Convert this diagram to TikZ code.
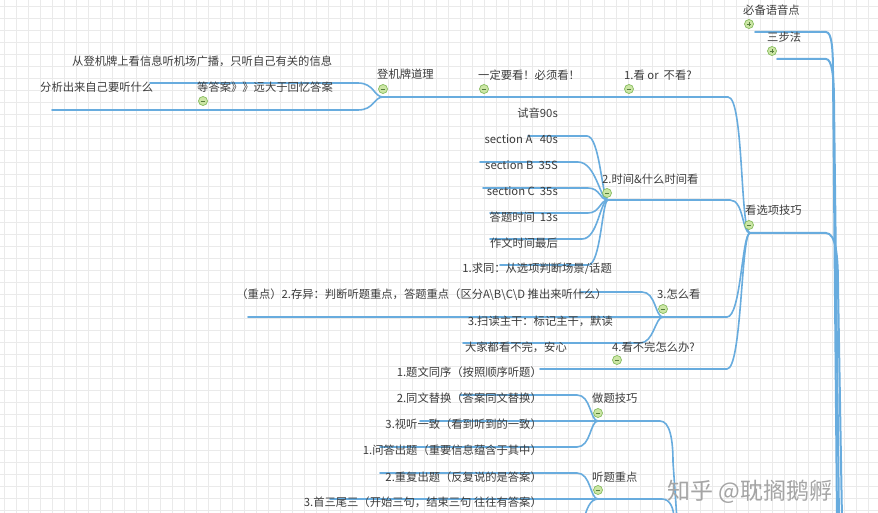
\documentclass[tikz,border=0pt]{standalone}
\usepackage{fontspec}
\setmainfont{Noto Sans CJK SC}
\definecolor{lb}{RGB}{104,172,222}
\definecolor{tc}{RGB}{60,60,60}
\definecolor{gridc}{RGB}{234,234,234}
\definecolor{cf}{RGB}{204,230,165}
\definecolor{cb}{RGB}{135,188,95}
\definecolor{cs}{RGB}{85,125,60}
\definecolor{wm}{RGB}{165,165,165}
\tikzset{
  br/.style={draw=lb, line width=1.6pt, line cap=round},
  mainbr/.style={draw=lb, line width=2pt, line cap=round},
  txt/.style={inner sep=0pt, text=tc, font=\fontsize{11.3}{13}\selectfont},
  wmtxt/.style={inner sep=0pt, anchor=west, font=\fontsize{23}{26}\selectfont},
  colminus/.style={circle, draw=cb, fill=cf, minimum size=9pt, inner sep=0pt, line width=0.7pt,
    path picture={\draw[cs, line width=0.9pt] ([xshift=-2.4pt]path picture bounding box.center) -- ([xshift=2.4pt]path picture bounding box.center);}},
  colplus/.style={circle, draw=cb, fill=cf, minimum size=9pt, inner sep=0pt, line width=0.7pt,
    path picture={\draw[cs, line width=0.9pt] ([xshift=-2.4pt]path picture bounding box.center) -- ([xshift=2.4pt]path picture bounding box.center)
      ([yshift=-2.4pt]path picture bounding box.center) -- ([yshift=2.4pt]path picture bounding box.center);}}
}
\begin{document}
\begin{tikzpicture}[x=1pt,y=-1pt]
\useasboundingbox (0,0) rectangle (878,513);
\fill[white] (0,0) rectangle (878,513);
\foreach \i in {4,16,...,878} \draw[gridc, line width=0.5pt] (\i,0) -- (\i,513);
\foreach \j in {6,18,...,513} \draw[gridc, line width=0.5pt] (0,\j) -- (878,\j);

% ---------- coordinates ----------
\coordinate (JA) at (383,97);
\coordinate (a1s) at (150,83); \coordinate (a1e) at (358,83);
\coordinate (a2s) at (52,110); \coordinate (a2e) at (358,110);
\coordinate (Aend) at (728,97);
\coordinate (JK) at (750,233);
\coordinate (JB) at (608,200);
\coordinate (b1s) at (528,136); \coordinate (b1e) at (587,136);
\coordinate (b2s) at (480,162); \coordinate (b2e) at (578,162);
\coordinate (b3s) at (483,188); \coordinate (b3e) at (588,188);
\coordinate (b4s) at (490,213); \coordinate (b4e) at (588,213);
\coordinate (b5s) at (490,239); \coordinate (b5e) at (582,239);
\coordinate (b6s) at (500,265); \coordinate (b6e) at (588,265);
\coordinate (Bend) at (730,200);
\coordinate (JC) at (663,317);
\coordinate (c1s) at (580,292); \coordinate (c1e) at (642,292);
\coordinate (c2s) at (248,317);
\coordinate (c3s) at (463,343); \coordinate (c3e) at (640,343);
\coordinate (Cend) at (727,317);
\coordinate (ds) at (540,369); \coordinate (de) at (727,369);
\coordinate (JD) at (598,421);
\coordinate (e1s) at (460,395); \coordinate (e1e) at (577,395);
\coordinate (e2s) at (420,421);
\coordinate (e3s) at (380,447); \coordinate (e3e) at (577,447);
\coordinate (Dend) at (660,421); \coordinate (Ddown) at (673,462); \coordinate (Dbot) at (677,520);
\coordinate (JE) at (598,499);
\coordinate (f1s) at (380,473); \coordinate (f1e) at (577,473);
\coordinate (f2s) at (330,499);
\coordinate (f3b) at (584,520);
\coordinate (Eend) at (662,499); \coordinate (Ebot) at (674,520);
\coordinate (Kend) at (826,233); \coordinate (Kdown) at (838,285); \coordinate (Kbot) at (842,520);
\coordinate (Ps) at (755,32); \coordinate (Pe) at (826,32); \coordinate (Pdown) at (833,75); \coordinate (Pbot) at (837,520);
\coordinate (Ss) at (777,59); \coordinate (Se) at (826,59); \coordinate (Sdown) at (834,102); \coordinate (Sbot) at (839,520);

% ---------- connectors ----------
\draw[br] (a1s) -- (a1e) .. controls +(16,0) and +(-9,0) .. (JA);
\draw[br] (a2s) -- (a2e) .. controls +(16,0) and +(-9,0) .. (JA);
\draw[br] (JA) -- (Aend) .. controls +(16,0) and +(-10,0) .. (JK);

\draw[br] (b1s) -- (b1e) .. controls +(13,0) and +(-6,0) .. (JB);
\draw[br] (b2s) -- (b2e) .. controls +(18,0) and +(-8,0) .. (JB);
\draw[br] (b3s) -- (b3e) .. controls +(12,0) and +(-8,0) .. (JB);
\draw[br] (b4s) -- (b4e) .. controls +(12,0) and +(-8,0) .. (JB);
\draw[br] (b5s) -- (b5e) .. controls +(16,0) and +(-8,0) .. (JB);
\draw[br] (b6s) -- (b6e) .. controls +(13,0) and +(-6,0) .. (JB);
\draw[br] (JB) -- (Bend) .. controls +(14,0) and +(-8,0) .. (JK);

\draw[br] (c1s) -- (c1e) .. controls +(14,0) and +(-8,0) .. (JC);
\draw[br] (c2s) -- (JC);
\draw[br] (c3s) -- (c3e) .. controls +(14,0) and +(-8,0) .. (JC);
\draw[br] (JC) -- (Cend) .. controls +(14,0) and +(-8,0) .. (JK);
\draw[br] (ds) -- (de) .. controls +(15,0) and +(-9,0) .. (JK);

\draw[br] (e1s) -- (e1e) .. controls +(14,0) and +(-8,0) .. (JD);
\draw[br] (e2s) -- (JD);
\draw[br] (e3s) -- (e3e) .. controls +(14,0) and +(-8,0) .. (JD);
\draw[br] (JD) -- (Dend) .. controls +(10,0) and +(0,-22) .. (Ddown) -- (Dbot);

\draw[br] (f1s) -- (f1e) .. controls +(14,0) and +(-8,0) .. (JE);
\draw[br] (f2s) -- (JE);
\draw[br] (JE) .. controls +(-8,0) and +(2,-10) .. (f3b);
\draw[br] (JE) -- (Eend) .. controls +(8,0) and +(0,-12) .. (Ebot);

\draw[mainbr] (JK) -- (Kend) .. controls +(10,0) and +(0,-28) .. (Kdown) -- (Kbot);
\draw[mainbr] (Ps) -- (Pe) .. controls +(6,0) and +(0,-25) .. (Pdown) -- (Pbot);
\draw[mainbr] (Ss) -- (Se) .. controls +(6,0) and +(0,-25) .. (Sdown) -- (Sbot);

% ---------- texts ----------
\node[txt, anchor=west] (t1) at (72,61) {从登机牌上看信息听机场广播，只听自己有关的信息};
\node[txt, anchor=west] (t2) at (40,87) {分析出来自己要听什么};
\node[txt, anchor=west] (t3) at (197,87) {等答案》》远大于回忆答案};
\node[txt, anchor=west] (t4) at (377,74) {登机牌道理};
\node[txt, anchor=west] (t5) at (478,75) {一定要看！必须看！};
\node[txt, anchor=west] (t6) at (624,75) {1.看 or\ \ 不看?};
\node[txt, anchor=east] (t7) at (558,113) {试音90s};
\node[txt, anchor=east] (t8) at (558,139) {section A\ \ \ 40s};
\node[txt, anchor=east] (t9) at (558,165) {section B\ \ 35S};
\node[txt, anchor=east] (t10) at (558,191) {section C\ \ 35s};
\node[txt, anchor=east] (t11) at (558,217) {答题时间\ \ 13s};
\node[txt, anchor=east] (t12) at (558,243) {作文时间最后};
\node[txt, anchor=west] (t13) at (602,179) {2.时间\&什么时间看};
\node[txt, anchor=west] (t14) at (745,210) {看选项技巧};
\node[txt, anchor=east] (t15) at (612,269) {1.求同：从选项判断场景/话题};
\node[txt, anchor=east] (t16) at (607,295) {（重点）2.存异：判断听题重点，答题重点（区分A\textbackslash B\textbackslash C\textbackslash D 推出来听什么）};
\node[txt, anchor=west] (t17) at (657,294) {3.怎么看};
\node[txt, anchor=east] (t18) at (613,321) {3.扫读主干：标记主干，默读};
\node[txt, anchor=east] (t19) at (567,347) {大家都看不完，安心};
\node[txt, anchor=west] (t20) at (612,347) {4.看不完怎么办?};
\node[txt, anchor=east] (t21) at (542,372) {1.题文同序（按照顺序听题）};
\node[txt, anchor=east] (t22) at (542,398) {2.同文替换（答案同文替换）};
\node[txt, anchor=west] (t23) at (592,398) {做题技巧};
\node[txt, anchor=east] (t24) at (542,424) {3.视听一致（看到听到的一致）};
\node[txt, anchor=east] (t25) at (542,450) {1.问答出题（重要信息蕴含于其中）};
\node[txt, anchor=east] (t26) at (542,477) {2.重复出题（反复说的是答案）};
\node[txt, anchor=west] (t27) at (592,477) {听题重点};
\node[txt, anchor=east] (t28) at (542,502) {3.首三尾三（开始三句，结束三句 往往有答案）};
\node[txt, anchor=west] (t29) at (743,10) {必备语音点};
\node[txt, anchor=west] (t30) at (767,37) {三步法};

% ---------- collapse markers ----------
\node[colminus] (m1) at (383,89) {};
\node[colminus] (m2) at (203,101) {};
\node[colminus] (m3) at (484,89) {};
\node[colminus] (m4) at (629,89) {};
\node[colminus] (m5) at (607,193) {};
\node[colminus] (m6) at (749,225) {};
\node[colminus] (m7) at (663,309) {};
\node[colminus] (m8) at (617,360) {};
\node[colminus] (m9) at (598,413) {};
\node[colminus] (m10) at (598,490) {};
\node[colplus] (p1) at (749,24) {};
\node[colplus] (p2) at (772,51) {};

% ---------- watermark ----------
\node[wmtxt, text=wm] (wmk) at (667,492) {知乎 @耽搁鹅孵};
\end{tikzpicture}
\end{document}
